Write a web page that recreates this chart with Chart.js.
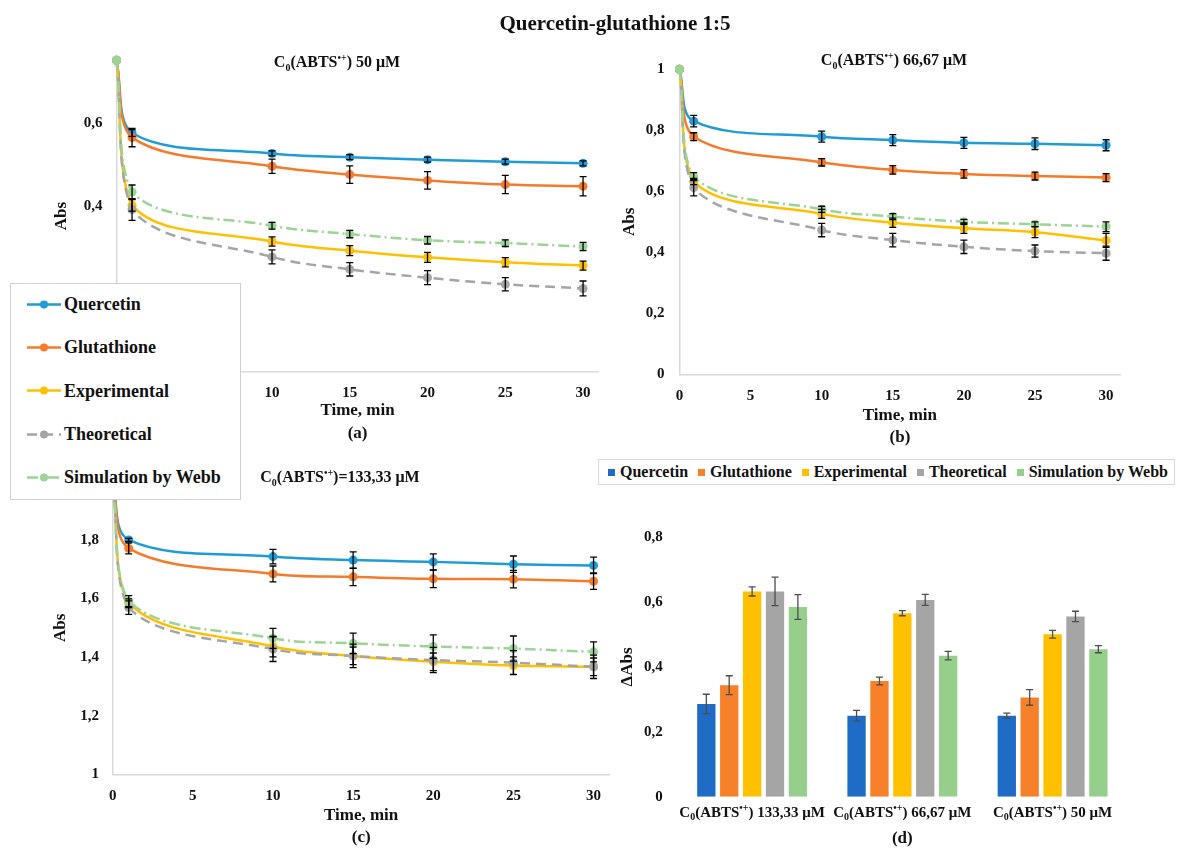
<!DOCTYPE html>
<html>
<head>
<meta charset="utf-8">
<script src="https://cdn.jsdelivr.net/npm/chart.js@4.4.1/dist/chart.umd.min.js"></script>
<style>
  body { margin: 0; background: #fff; font-family: "Liberation Serif", serif; }
  #page { position: relative; width: 1179px; height: 849px; overflow: hidden; background: #fff; }
  canvas { position: absolute; }
  .lbl { position: absolute; font-weight: bold; color: #111; white-space: nowrap; transform: translate(-50%, -50%); z-index: 3; }
  .lbl sub, .lbl sup { font-size: 0.62em; line-height: 0; }
  #mainTitle { font-size: 21px; }
  .ptitle { font-size: 16px; }
  #lineLegend { position: absolute; left: 10px; top: 283px; width: 229px; height: 215px; border: 1px solid #d0d0d0; background: #fff; z-index: 4; }
  .lrow { position: absolute; left: 16px; display: flex; align-items: center; gap: 3px; transform: translateY(-50%); font-size: 18px; font-weight: bold; color: #111; white-space: nowrap; }
  #barLegend { position: absolute; left: 598px; top: 459px; width: 577px; height: 26px; border: 1px solid #d9d9d9; background: #fff; z-index: 4;
    display: flex; align-items: center; justify-content: space-between; padding: 0 6px 0 9px; box-sizing: border-box; }
  .bitem { display: flex; align-items: center; gap: 5px; font-size: 16px; font-weight: bold; color: #111; white-space: nowrap; }
  .bsq { width: 7px; height: 7px; display: inline-block; }
</style>
</head>
<body>
<div id="page">
  <canvas id="chartA" width="570" height="410" style="left:40px; top:35px;"></canvas>
  <canvas id="chartB" width="538" height="409" style="left:612px; top:40px;"></canvas>
  <canvas id="chartC" width="585" height="394" style="left:40px; top:455px;"></canvas>
  <canvas id="chartD" width="560" height="349" style="left:600px; top:500px;"></canvas>

  <div class="lbl" id="mainTitle" style="left:615px; top:23px;">Quercetin-glutathione 1:5</div>
  <div class="lbl ptitle" style="left:337px; top:62px;">C<sub>0</sub>(ABTS<sup>•+</sup>) 50 μM</div>
  <div class="lbl ptitle" style="left:894px; top:60px;">C<sub>0</sub>(ABTS<sup>•+</sup>) 66,67 μM</div>
  <div class="lbl ptitle" style="left:340px; top:477px;">C<sub>0</sub>(ABTS<sup>•+</sup>)=133,33 μM</div>

  <div id="lineLegend"></div>
  <div id="barLegend"></div>
</div>

<script>
// time points, min
const times = [0, 1, 10, 15, 20, 25, 30];
const timeTicks = [0, 5, 10, 15, 20, 25, 30];
const seriesNames = ['Quercetin', 'Glutathione', 'Experimental', 'Theoretical', 'Simulation by Webb'];

// (a) C0(ABTS) 50 uM
const a_quercetin    = [0.75, 0.575, 0.526, 0.517, 0.511, 0.506, 0.502];
const a_glutathione  = [0.75, 0.564, 0.495, 0.475, 0.461, 0.451, 0.447];
const a_experimental = [0.75, 0.401, 0.314, 0.292, 0.276, 0.264, 0.256];
const a_theoretical  = [0.75, 0.391, 0.277, 0.247, 0.227, 0.211, 0.201];
const a_webb         = [0.75, 0.433, 0.352, 0.332, 0.317, 0.310, 0.302];
const a_errQuercetin    = [0, 0.008, 0.006, 0.006, 0.006, 0.006, 0.006];
const a_errGlutathione  = [0, 0.022, 0.017, 0.021, 0.021, 0.022, 0.023];
const a_errExperimental = [0, 0.014, 0.011, 0.012, 0.012, 0.011, 0.011];
const a_errTheoretical  = [0, 0.026, 0.017, 0.016, 0.017, 0.016, 0.018];
const a_errWebb         = [0, 0.017, 0.008, 0.009, 0.009, 0.008, 0.010];

// (b) C0(ABTS) 66,67 uM
const b_quercetin    = [1, 0.830, 0.779, 0.768, 0.759, 0.756, 0.751];
const b_glutathione  = [1, 0.779, 0.695, 0.670, 0.657, 0.650, 0.645];
const b_experimental = [1, 0.632, 0.526, 0.497, 0.479, 0.466, 0.439];
const b_theoretical  = [1, 0.612, 0.473, 0.440, 0.418, 0.404, 0.397];
const b_webb         = [1, 0.648, 0.541, 0.517, 0.500, 0.492, 0.484];
const b_errQuercetin    = [0, 0.019, 0.018, 0.018, 0.018, 0.019, 0.018];
const b_errGlutathione  = [0, 0.013, 0.012, 0.014, 0.014, 0.013, 0.013];
const b_errExperimental = [0, 0.010, 0.015, 0.015, 0.017, 0.018, 0.023];
const b_errTheoretical  = [0, 0.027, 0.022, 0.022, 0.022, 0.020, 0.023];
const b_errWebb         = [0, 0.013, 0.010, 0.010, 0.008, 0.008, 0.016];

// (c) C0(ABTS) 133,33 uM
const c_quercetin    = [2, 1.800, 1.743, 1.731, 1.725, 1.717, 1.713];
const c_glutathione  = [2, 1.771, 1.684, 1.674, 1.667, 1.666, 1.659];
const c_experimental = [2, 1.584, 1.436, 1.404, 1.384, 1.371, 1.367];
const c_theoretical  = [2, 1.569, 1.427, 1.404, 1.390, 1.381, 1.367];
const c_webb         = [2, 1.591, 1.464, 1.447, 1.436, 1.429, 1.418];
const c_errQuercetin    = [0, 0.005, 0.025, 0.028, 0.027, 0.028, 0.028];
const c_errGlutathione  = [0, 0.019, 0.027, 0.030, 0.030, 0.030, 0.028];
const c_errExperimental = [0, 0.015, 0.035, 0.030, 0.030, 0.030, 0.030];
const c_errTheoretical  = [0, 0.023, 0.042, 0.040, 0.043, 0.041, 0.040];
const c_errWebb         = [0, 0.019, 0.034, 0.035, 0.040, 0.043, 0.034];

// (d) delta Abs bars, one group per ABTS concentration
const d_concentrations = ['133,33', '66,67', '50'];
const d_quercetin    = [0.286, 0.250, 0.250];
const d_glutathione  = [0.344, 0.357, 0.306];
const d_experimental = [0.633, 0.566, 0.501];
const d_theoretical  = [0.633, 0.607, 0.556];
const d_webb         = [0.585, 0.435, 0.455];
const d_errQuercetin    = [0.030, 0.016, 0.008];
const d_errGlutathione  = [0.029, 0.012, 0.024];
const d_errExperimental = [0.014, 0.008, 0.012];
const d_errTheoretical  = [0.044, 0.017, 0.016];
const d_errWebb         = [0.038, 0.013, 0.011];

// styles
const lineColors = ['#1f9bd7', '#f47b2c', '#ffc000', '#a5a5a5', '#9bd494'];
const barColors  = ['#1f6cc6', '#f7802a', '#ffc000', '#a5a5a5', '#95cf8b'];
const lineDash   = [[], [], [], [10, 6], [11, 4, 2, 4]];
const FONT = '"Liberation Serif", serif';

Chart.defaults.font.family = FONT;
Chart.defaults.font.weight = 'bold';
Chart.defaults.color = '#111';

// draws +/- error bars from dataset.errors through the chart's own scales
const errorBarPlugin = {
    id: 'errorBars',
    afterDatasetsDraw(chart) {
        const ctx = chart.ctx;
        chart.data.datasets.forEach((ds, i) => {
            if (!ds.errors) return;
            const meta = chart.getDatasetMeta(i);
            const yScale = chart.scales[meta.yAxisID];
            ctx.save();
            ctx.strokeStyle = ds.errorColor;
            ctx.lineWidth = 1.3;
            meta.data.forEach((el, j) => {
                const err = ds.errors[j];
                if (!err) return;
                const raw = ds.data[j];
                const v = typeof raw === 'object' ? raw.y : raw;
                const yTop = yScale.getPixelForValue(v + err);
                const yBot = yScale.getPixelForValue(v - err);
                const x = el.x;
                ctx.beginPath();
                ctx.moveTo(x, yTop); ctx.lineTo(x, yBot);
                ctx.moveTo(x - 3.5, yTop); ctx.lineTo(x + 3.5, yTop);
                ctx.moveTo(x - 3.5, yBot); ctx.lineTo(x + 3.5, yBot);
                ctx.stroke();
            });
            ctx.restore();
        });
    }
};

// category labels with subscript 0 and superscript •+ , drawn at the x scale's tick positions
const richCategoryPlugin = {
    id: 'richCategories',
    afterDraw(chart) {
        const ctx = chart.ctx;
        const xs = chart.scales.x;
        const y = xs.top + 16.3;
        ctx.save();
        ctx.fillStyle = '#111';
        ctx.textBaseline = 'middle';
        ctx.textAlign = 'left';
        d_concentrations.forEach((conc, i) => {
            const parts = [
                { t: 'C', size: 15, dy: 0 },
                { t: '0', size: 10, dy: 4 },
                { t: '(ABTS', size: 15, dy: 0 },
                { t: '•+', size: 10, dy: -5 },
                { t: ') ' + conc + ' μM', size: 15, dy: 0 }
            ];
            let total = 0;
            parts.forEach(p => {
                ctx.font = `bold ${p.size}px ${FONT}`;
                p.w = ctx.measureText(p.t).width;
                total += p.w;
            });
            let x = xs.getPixelForValue(i) - total / 2;
            parts.forEach(p => {
                ctx.font = `bold ${p.size}px ${FONT}`;
                ctx.fillText(p.t, x, y + p.dy);
                x += p.w;
            });
        });
        ctx.restore();
    }
};

const commaTick = v => Number(v.toFixed(1)).toString().replace('.', ',');

function makeLineChart(id, series, errors, cfg) {
    const datasets = series.map((vals, i) => ({
        label: seriesNames[i],
        data: vals.map((y, k) => ({ x: times[k], y: y })),
        errors: errors[i],
        errorColor: '#000',
        borderColor: lineColors[i],
        backgroundColor: lineColors[i],
        borderWidth: 2.5,
        borderDash: lineDash[i],
        pointRadius: 4.5,
        pointHoverRadius: 4.5,
        pointBorderWidth: 0,
        tension: 0.35,
        clip: false,
        order: 4 - i
    }));

    return new Chart(document.getElementById(id), {
        type: 'line',
        data: { datasets: datasets },
        plugins: [errorBarPlugin],
        options: {
            responsive: false,
            animation: false,
            layout: { autoPadding: false, padding: { top: cfg.padTop, right: cfg.padRight, left: 0, bottom: 0 } },
            plugins: { legend: { display: false }, tooltip: { enabled: false } },
            scales: {
                x: {
                    type: 'linear', min: 0, max: 31,
                    ticks: { padding: cfg.xTickPad, font: { size: 15, weight: 'bold' } },
                    afterBuildTicks: axis => { axis.ticks = timeTicks.map(v => ({ value: v })); },
                    grid: { display: false, drawTicks: false },
                    border: { display: true, color: '#d9d9d9', width: 1.5 },
                    title: { display: true, text: ['Time, min', cfg.tag], padding: 0,
                             font: { size: 17, weight: 'bold', lineHeight: cfg.titleLH / 17 } },
                    afterFit: s => { s.height = cfg.xHeight; }
                },
                y: {
                    min: cfg.yMin, max: cfg.yMax,
                    ticks: { stepSize: 0.2, padding: cfg.yTickPad, font: { size: 15, weight: 'bold' }, callback: commaTick },
                    afterBuildTicks: axis => {
                        axis.ticks = axis.ticks.filter(t => Math.abs(t.value / 0.2 - Math.round(t.value / 0.2)) < 1e-6);
                    },
                    grid: { display: false, drawTicks: false },
                    border: { display: true, color: '#d9d9d9', width: 1.5 },
                    title: { display: true, text: 'Abs', padding: { top: cfg.yTitlePad, bottom: 0 },
                             font: { size: 17, weight: 'bold', lineHeight: 1.2 } },
                    afterFit: s => { s.width = cfg.yWidth; }
                }
            }
        }
    });
}

makeLineChart('chartA',
    [a_quercetin, a_glutathione, a_experimental, a_theoretical, a_webb],
    [a_errQuercetin, a_errGlutathione, a_errExperimental, a_errTheoretical, a_errWebb],
    { tag: '(a)', yMin: 0, yMax: 0.75, padTop: 25.3, padRight: 11.4, yWidth: 76.5, yTickPad: 14, yTitlePad: 11,
      xHeight: 73, xTickPad: 12, titleLH: 23 });

makeLineChart('chartB',
    [b_quercetin, b_glutathione, b_experimental, b_theoretical, b_webb],
    [b_errQuercetin, b_errGlutathione, b_errExperimental, b_errTheoretical, b_errWebb],
    { tag: '(b)', yMin: 0, yMax: 1, padTop: 29.3, padRight: 29.7, yWidth: 67.5, yTickPad: 15, yTitlePad: 7.3,
      xHeight: 74.7, xTickPad: 12.7, titleLH: 22 });

makeLineChart('chartC',
    [c_quercetin, c_glutathione, c_experimental, c_theoretical, c_webb],
    [c_errQuercetin, c_errGlutathione, c_errExperimental, c_errTheoretical, c_errWebb],
    { tag: '(c)', yMin: 1, yMax: 2, padTop: 26.3, padRight: 15.4, yWidth: 72.7, yTickPad: 13.8, yTitlePad: 10.3,
      xHeight: 74.7, xTickPad: 12.7, titleLH: 22 });

// (d) bar chart
const barSeries = [d_quercetin, d_glutathione, d_experimental, d_theoretical, d_webb];
const barErrors = [d_errQuercetin, d_errGlutathione, d_errExperimental, d_errTheoretical, d_errWebb];

new Chart(document.getElementById('chartD'), {
    type: 'bar',
    data: {
        labels: d_concentrations.map(c => 'C0(ABTS•+) ' + c + ' μM'),
        datasets: barSeries.map((vals, i) => ({
            label: seriesNames[i],
            data: vals,
            errors: barErrors[i],
            errorColor: '#4d4d4d',
            backgroundColor: barColors[i],
            borderWidth: 0,
            categoryPercentage: 0.762,
            barPercentage: 0.8
        }))
    },
    plugins: [errorBarPlugin, richCategoryPlugin],
    options: {
        responsive: false,
        animation: false,
        layout: { autoPadding: false, padding: { top: 37.3, right: 32.3, left: 0, bottom: 0 } },
        plugins: { legend: { display: false }, tooltip: { enabled: false } },
        scales: {
            x: {
                ticks: { display: false },
                grid: { display: false, drawTicks: false },
                border: { display: false },
                title: { display: true, text: '(d)', padding: 0, font: { size: 17, weight: 'bold', lineHeight: 20 / 17 } },
                afterFit: s => { s.height = 52.3; }
            },
            y: {
                min: 0, max: 0.8,
                ticks: { stepSize: 0.2, padding: 14.3, font: { size: 15, weight: 'bold' }, callback: commaTick },
                grid: { display: false, drawTicks: false },
                border: { display: false },
                title: { display: true, text: 'ΔAbs', padding: { top: 17.4, bottom: 0 }, font: { size: 17, weight: 'bold', lineHeight: 1.2 } },
                afterFit: s => { s.width = 77; }
            }
        }
    }
});

// legend for line panels
const lineLegend = document.getElementById('lineLegend');
seriesNames.forEach((name, i) => {
    const row = document.createElement('div');
    row.className = 'lrow';
    row.style.top = (20 + i * 43.35) + 'px';
    const dash = lineDash[i].length ? lineDash[i].join(' ') : 'none';
    row.innerHTML =
        `<svg width="34" height="12"><line x1="0" y1="6" x2="34" y2="6" stroke="${lineColors[i]}" stroke-width="2.5" stroke-dasharray="${dash}"/>` +
        `<circle cx="17" cy="6" r="4" fill="${lineColors[i]}"/></svg><span>${name}</span>`;
    lineLegend.appendChild(row);
});

// legend for bar panel
const barLegend = document.getElementById('barLegend');
seriesNames.forEach((name, i) => {
    const item = document.createElement('div');
    item.className = 'bitem';
    item.innerHTML = `<span class="bsq" style="background:${barColors[i]}"></span><span>${name}</span>`;
    barLegend.appendChild(item);
});
</script>
</body>
</html>
